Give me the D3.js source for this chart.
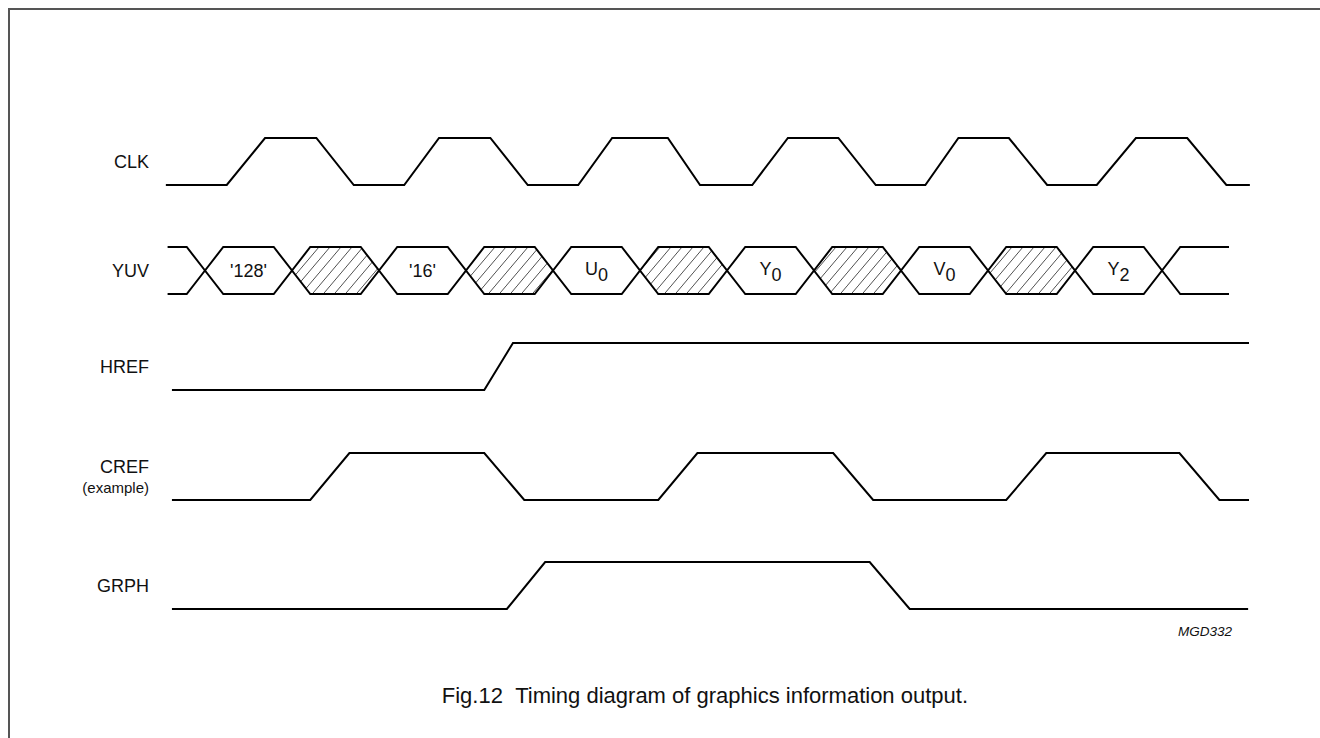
<!DOCTYPE html>
<html lang="en">
<head>
<meta charset="UTF-8" />
<title>Fig.12 Timing diagram of graphics information output</title>
<script src="https://d3js.org/d3.v7.min.js"></script>
<style>
  body { margin: 0; background: #fff; }
  svg { display: block; font-family: "Liberation Sans", Arial, Helvetica, sans-serif; }
  .wave { fill: none; stroke: #000; stroke-width: 2; stroke-linejoin: miter; }
  .cell { fill: #fff; stroke: #000; stroke-width: 2; stroke-linejoin: miter; }
  .cell.hatched { fill: url(#hatch); }
  .label { font-size: 18px; fill: #111; text-anchor: end; }
  .note { font-size: 15px; fill: #111; text-anchor: end; }
  .value { font-size: 18px; fill: #111; text-anchor: middle; }
  .code { font-size: 13.5px; font-style: italic; fill: #111; text-anchor: end; }
  .caption { font-size: 22px; fill: #111; text-anchor: end; }
</style>
</head>
<body>
<svg id="chart" width="1320" height="738"></svg>
<script>
// time axis: one YUV byte slot = 10 units, first YUV crossing at t = 0
// waveforms are [time, level] breakpoints, level 0 = low, 1 = high
const clkWave = [
  [-4.5, 0], [2.5, 0], [6.9, 1], [12.8, 1], [17.1, 0],
  [22.9, 0], [26.9, 1], [32.8, 1], [37.1, 0],
  [42.9, 0], [46.8, 1], [53.2, 1], [56.9, 0],
  [62.9, 0], [67.0, 1], [72.8, 1], [77.1, 0],
  [82.8, 0], [86.6, 1], [92.4, 1], [96.8, 0],
  [102.5, 0], [107.0, 1], [112.9, 1], [117.4, 0], [120.1, 0]
];
const hrefWave = [[-3.8, 0], [32.1, 0], [35.4, 1], [120.0, 1]];
const crefWave = [
  [-3.8, 0], [12.1, 0], [16.6, 1], [32.1, 1], [36.7, 0],
  [52.1, 0], [56.6, 1], [72.2, 1], [76.8, 0],
  [92.1, 0], [96.7, 1], [112.0, 1], [116.6, 0], [120.0, 0]
];
const grphWave = [[-3.8, 0], [34.7, 0], [39.1, 1], [76.4, 1], [81.0, 0], [119.9, 0]];

// YUV bus: crossing times and the value held between them (null = don't care)
const yuvCrossings = [0, 10, 20, 30, 40, 50, 60, 70, 80, 90, 100, 110];
const yuvValues = [
  ["'128'", ""], null, ["'16'", ""], null, ["U", "0"], null,
  ["Y", "0"], null, ["V", "0"], null, ["Y", "2"]
];
const yuvStart = -4.3;
const yuvEnd = 117.7;
const busEdge = 2.1; // half width of a bus transition

const signalNames = ["CLK", "YUV", "HREF", "CREF", "GRPH"];
const signalNotes = { CREF: "(example)" };
const figCode = "MGD332";
const caption = "Fig.12\u00a0\u00a0Timing diagram of graphics information output.";

// layout
const rowPos = { CLK: [185, 138], YUV: [294, 247], HREF: [390, 343], CREF: [500, 453], GRPH: [609, 562] };
const labelX = 149;

const svg = d3.select("#chart");

// don't-care hatching: thin "/" strokes, ~11px apart
const hw = 11, hh = 13;
svg.append("defs").append("pattern")
  .attr("id", "hatch")
  .attr("patternUnits", "userSpaceOnUse")
  .attr("width", hw)
  .attr("height", hh)
  .call(p => p.append("rect").attr("width", hw).attr("height", hh).attr("fill", "#fff"))
  .append("path")
  .attr("d", `M0,${hh} L${hw},0 M${-hw},${hh} L0,0 M${hw},${2 * hh} L${2 * hw},${hh} M0,${2 * hh} L${hw},${hh} M${-hw},0 L0,${-hh} M0,0 L${hw},${-hh}`)
  .attr("stroke", "#222")
  .attr("stroke-width", 0.8);

// frame
svg.append("path")
  .attr("d", "M9,738 L9,9 L1320,9")
  .attr("fill", "none")
  .attr("stroke", "#555")
  .attr("stroke-width", 2);

const x = d3.scaleLinear().domain([0, 110]).range([205, 1162]);

function levelScale(name) {
  return d3.scaleLinear().domain([0, 1]).range(rowPos[name]);
}

function drawWave(name, wave) {
  const y = levelScale(name);
  const line = d3.line().x(d => x(d[0])).y(d => y(d[1]));
  svg.append("path").attr("class", "wave").attr("d", line(wave));
}

drawWave("CLK", clkWave);
drawWave("HREF", hrefWave);
drawWave("CREF", crefWave);
drawWave("GRPH", grphWave);

// YUV bus
const yb = levelScale("YUV");
const busTop = yb(1), busBot = yb(0), busMid = yb(0.5);
const cells = yuvValues.map((v, i) => ({ t0: yuvCrossings[i], t1: yuvCrossings[i + 1], v }));
const hexLine = d3.line().x(p => x(p[0])).y(p => p[1]);

svg.append("g").selectAll("path")
  .data(cells)
  .join("path")
  .attr("class", d => d.v ? "cell" : "cell hatched")
  .attr("d", d => hexLine([
    [d.t0, busMid], [d.t0 + busEdge, busTop], [d.t1 - busEdge, busTop],
    [d.t1, busMid], [d.t1 - busEdge, busBot], [d.t0 + busEdge, busBot]
  ]) + "Z");

const first = yuvCrossings[0], last = yuvCrossings[yuvCrossings.length - 1];
[
  [[yuvStart, busTop], [first - busEdge, busTop], [first, busMid]],
  [[yuvStart, busBot], [first - busEdge, busBot], [first, busMid]],
  [[last, busMid], [last + busEdge, busTop], [yuvEnd, busTop]],
  [[last, busMid], [last + busEdge, busBot], [yuvEnd, busBot]]
].forEach(seg => svg.append("path").attr("class", "wave").attr("d", hexLine(seg)));

const vals = svg.append("g").selectAll("text")
  .data(cells.filter(d => d.v))
  .join("text")
  .attr("class", "value")
  .attr("x", d => x((d.t0 + d.t1) / 2))
  .attr("y", d => busMid + (d.v[1] ? 4.5 : 6.5));
vals.append("tspan").text(d => d.v[0]);
vals.filter(d => d.v[1]).append("tspan").attr("dy", 6).text(d => d.v[1]);

// signal labels
signalNames.forEach(name => {
  const m = levelScale(name)(0.5);
  if (signalNotes[name]) {
    svg.append("text").attr("class", "label").attr("x", labelX).attr("y", m - 3.5).text(name);
    svg.append("text").attr("class", "note").attr("x", labelX).attr("y", m + 16.5).text(signalNotes[name]);
  } else {
    svg.append("text").attr("class", "label").attr("x", labelX).attr("y", m + 6.5).text(name);
  }
});

svg.append("text").attr("class", "code").attr("x", 1232).attr("y", 636).text(figCode);
svg.append("text").attr("class", "caption").attr("x", 968).attr("y", 703).text(caption);
</script>
</body>
</html>
